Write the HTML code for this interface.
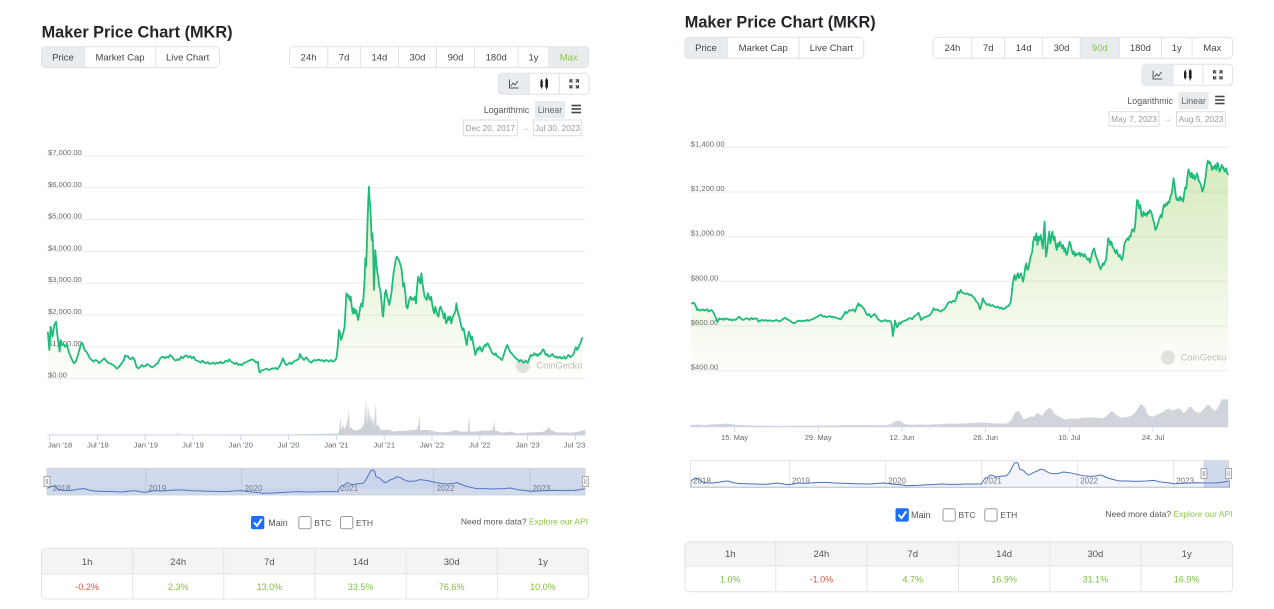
<!DOCTYPE html>
<html><head><meta charset="utf-8"><style>
html,body{margin:0;padding:0;background:#fff;}
svg{display:block;}
</style></head><body>
<svg width="1274" height="609" viewBox="0 0 1274 609" xmlns="http://www.w3.org/2000/svg" font-family="'Liberation Sans', sans-serif">
<defs>
<linearGradient id="gL" gradientUnits="userSpaceOnUse" x1="0" y1="48" x2="0" y2="716"><stop offset="0" stop-color="#8dc647" stop-opacity="0.38"/><stop offset="1" stop-color="#8dc647" stop-opacity="0.02"/></linearGradient>
<linearGradient id="gR" gradientUnits="userSpaceOnUse" x1="0" y1="52" x2="0" y2="722"><stop offset="0" stop-color="#8dc647" stop-opacity="0.38"/><stop offset="1" stop-color="#8dc647" stop-opacity="0.02"/></linearGradient>
</defs>

<!-- ================= LEFT PANEL ================= -->
<text x="41.6" y="37.7" font-size="16.3" font-weight="bold" fill="#212529">Maker Price Chart (MKR)</text>
<!-- tabs -->
<rect x="41.5" y="46.7" width="178" height="20.8" rx="4" fill="#fff"/>
<rect x="42" y="47.2" width="42.3" height="19.8" fill="#e9ecef"/>
<rect x="41.5" y="46.7" width="178" height="20.8" rx="4" fill="none" stroke="#dee2e6"/>
<line x1="84.3" y1="46.7" x2="84.3" y2="67.5" stroke="#dee2e6"/>
<line x1="155.7" y1="46.7" x2="155.7" y2="67.5" stroke="#dee2e6"/>
<g font-size="9.5" fill="#444" text-anchor="middle">
<text x="63" y="60.4">Price</text><text x="120" y="60.4">Market Cap</text><text x="187.6" y="60.4">Live Chart</text>
</g>
<!-- ranges -->
<rect x="549" y="47.2" width="39" height="19.8" fill="#e9ecef"/>
<rect x="289.5" y="46.7" width="299" height="20.8" rx="4" fill="none" stroke="#dee2e6"/>
<g stroke="#dee2e6"><line x1="327.8" y1="46.7" x2="327.8" y2="67.5"/><line x1="360.4" y1="46.7" x2="360.4" y2="67.5"/><line x1="398.5" y1="46.7" x2="398.5" y2="67.5"/><line x1="436.5" y1="46.7" x2="436.5" y2="67.5"/><line x1="474.5" y1="46.7" x2="474.5" y2="67.5"/><line x1="518" y1="46.7" x2="518" y2="67.5"/><line x1="549" y1="46.7" x2="549" y2="67.5"/></g>
<g font-size="9.5" fill="#444" text-anchor="middle">
<text x="308.6" y="60.4">24h</text><text x="344.1" y="60.4">7d</text><text x="379.4" y="60.4">14d</text><text x="417.5" y="60.4">30d</text><text x="455.5" y="60.4">90d</text><text x="496.2" y="60.4">180d</text><text x="533.5" y="60.4">1y</text><text x="568.7" y="60.4" fill="#8dc647">Max</text>
</g>
<!-- icons -->
<g id="icons">
<rect x="498.8" y="73.8" width="30.5" height="20" fill="#e9ecef"/>
<rect x="498.3" y="73.3" width="90.7" height="21" rx="4" fill="none" stroke="#dee2e6"/>
<line x1="529.3" y1="73.3" x2="529.3" y2="94.3" stroke="#dee2e6"/><line x1="559.3" y1="73.3" x2="559.3" y2="94.3" stroke="#dee2e6"/>
<path d="M509.5,79.5 V88 H518.5" stroke="#555" fill="none"/><path d="M511,86 L513,83 L515,85 L518,81" stroke="#555" fill="none"/>
<line x1="541.6" y1="79" x2="541.6" y2="88.5" stroke="#222"/><rect x="540.4" y="80.5" width="2.4" height="6.5" fill="#222"/>
<line x1="546.6" y1="78" x2="546.6" y2="89.5" stroke="#222"/><rect x="545.3" y="79.5" width="2.7" height="8" fill="#222"/>
<g stroke="#444" stroke-width="1.2" fill="none"><path d="M570,82.6 V79.8 H572.8 M570,79.8 L572.6,82.4 M578.4,82.6 V79.8 H575.6 M578.4,79.8 L575.8,82.4 M570,85 V87.8 H572.8 M570,87.8 L572.6,85.2 M578.4,85 V87.8 H575.6 M578.4,87.8 L575.8,85.2"/></g>
</g>
<!-- log/linear -->
<text x="529.3" y="113.2" font-size="8.8" fill="#555" text-anchor="end">Logarithmic</text>
<rect x="535" y="101" width="30" height="17.3" fill="#e9ecef"/>
<text x="550" y="113.2" font-size="8.8" fill="#666" text-anchor="middle">Linear</text>
<g stroke="#444" stroke-width="1.6"><line x1="571.5" y1="105.5" x2="581" y2="105.5"/><line x1="571.5" y1="109" x2="581" y2="109"/><line x1="571.5" y1="112.5" x2="581" y2="112.5"/></g>
<!-- dates -->
<rect x="463.3" y="120" width="54" height="15.7" fill="#fff" stroke="#dcdcdc"/>
<text x="490.3" y="130.8" font-size="8.3" fill="#999" text-anchor="middle">Dec 20, 2017</text>
<text x="525" y="130.5" font-size="7" fill="#999" text-anchor="middle">→</text>
<rect x="533.3" y="120" width="48.4" height="15.7" fill="#fff" stroke="#dcdcdc"/>
<text x="557.5" y="130.8" font-size="8.3" fill="#999" text-anchor="middle">Jul 30, 2023</text>

<!-- left chart grid -->
<g stroke="#ebebeb"><line x1="47" y1="156" x2="585" y2="156"/><line x1="47" y1="187.8" x2="585" y2="187.8"/><line x1="47" y1="219.6" x2="585" y2="219.6"/><line x1="47" y1="251.4" x2="585" y2="251.4"/><line x1="47" y1="283.2" x2="585" y2="283.2"/><line x1="47" y1="315" x2="585" y2="315"/><line x1="47" y1="346.8" x2="585" y2="346.8"/><line x1="47" y1="378.6" x2="585" y2="378.6"/></g>
<g font-size="7.6" fill="#666">
<text x="48" y="155">$7,000.00</text><text x="48" y="186.8">$6,000.00</text><text x="48" y="218.6">$5,000.00</text><text x="48" y="250.4">$4,000.00</text><text x="48" y="282.2">$3,000.00</text><text x="48" y="314">$2,000.00</text><text x="48" y="345.8">$1,000.00</text><text x="48" y="377.6">$0.00</text>
</g>
<circle cx="522.8" cy="366" r="7" fill="#e3e3e3"/>
<text x="536.4" y="368.6" font-size="9.3" fill="#bdbdbd">CoinGecko</text>
<g transform="translate(40,140) scale(0.3571,0.3333)">
<path fill="url(#gL)" d="M22,575 L26,630 30,560 35,590 40,555 45,545 48,580 52,610 55,635 58,600 62,615 66,612 70,620 74,615 78,625 82,640 86,650 90,660 95,670 100,665 105,650 110,630 115,612 118,608 122,620 126,632 130,635 135,645 140,655 145,660 150,665 155,660 160,662 165,670 170,665 175,660 180,655 185,662 190,668 195,670 200,672 205,675 210,680 215,686 220,682 225,675 230,668 235,660 238,647 242,650 246,648 250,655 255,658 260,652 265,660 270,680 275,685 280,682 285,675 290,680 295,678 300,672 305,676 310,680 315,682 320,678 325,673 330,670 335,658 340,652 345,650 350,655 355,650 360,652 365,645 370,650 375,658 380,662 385,658 390,660 395,650 400,655 405,648 410,646 415,652 420,648 425,655 430,650 435,660 440,662 445,665 450,668 455,662 460,668 465,670 470,666 475,672 480,670 485,668 490,672 495,668 500,670 505,665 510,670 515,668 520,662 525,665 530,658 535,665 540,668 545,672 550,668 555,675 560,672 565,676 570,670 575,668 580,665 585,662 590,660 595,658 600,662 605,668 610,665 613,690 616,698 620,692 625,690 630,688 635,686 640,690 645,688 650,685 655,686 660,684 665,688 670,680 675,670 680,655 683,662 686,670 690,675 695,672 700,668 705,672 710,665 715,662 720,660 725,655 728,642 731,650 735,655 740,660 745,652 750,658 755,665 760,668 765,662 770,660 775,662 780,658 785,662 790,660 795,665 800,660 805,662 810,665 815,660 820,665 825,662 830,655 834,620 837,570 840,580 843,600 846,590 850,575 853,560 856,500 858,460 861,470 864,465 867,480 870,470 873,500 876,520 879,505 882,520 885,510 888,525 891,540 894,520 897,500 900,490 903,500 906,470 909,420 911,355 913,380 915,330 917,250 919,190 921,140 923,180 925,200 927,250 929,300 931,280 933,330 935,450 937,400 939,330 941,360 943,380 945,400 947,410 950,440 953,450 956,480 959,520 961,530 963,500 966,460 969,450 972,470 975,480 978,495 981,480 984,460 987,430 990,400 993,380 996,360 999,350 1002,355 1005,360 1008,370 1011,380 1014,400 1017,440 1020,430 1023,460 1026,500 1029,505 1032,490 1035,475 1038,470 1041,480 1044,475 1047,480 1050,470 1053,490 1056,440 1059,410 1062,420 1065,430 1068,400 1071,430 1074,450 1077,470 1080,475 1083,480 1086,460 1089,470 1092,480 1095,470 1098,490 1101,510 1104,520 1107,500 1110,515 1113,525 1116,530 1119,505 1122,500 1125,510 1128,520 1131,535 1134,520 1137,550 1140,545 1143,530 1146,540 1149,530 1152,550 1155,535 1158,525 1161,520 1164,510 1166,490 1168,505 1171,520 1174,530 1177,545 1180,560 1183,570 1186,565 1189,580 1192,600 1195,615 1198,590 1201,575 1204,585 1207,600 1210,590 1213,610 1216,625 1219,645 1222,635 1225,625 1228,630 1231,620 1234,625 1237,635 1240,628 1243,620 1246,615 1249,618 1252,610 1255,612 1258,620 1261,625 1264,635 1267,640 1270,642 1273,645 1276,640 1279,648 1282,650 1285,652 1288,655 1291,658 1294,660 1297,650 1300,640 1303,630 1306,620 1309,615 1312,625 1315,632 1318,638 1321,640 1324,645 1327,648 1330,652 1333,655 1336,658 1339,660 1342,665 1345,660 1348,662 1351,665 1354,668 1357,666 1360,662 1363,665 1366,668 1369,660 1372,650 1375,645 1378,648 1381,645 1384,640 1387,645 1390,642 1393,648 1396,645 1399,640 1402,642 1405,635 1408,628 1411,630 1414,640 1417,645 1420,642 1423,648 1426,650 1429,648 1432,645 1435,642 1438,648 1441,650 1444,652 1447,650 1450,654 1453,652 1456,650 1459,655 1462,656 1465,652 1468,650 1471,656 1474,655 1477,648 1480,645 1483,648 1486,652 1489,648 1492,645 1495,640 1498,628 1501,622 1504,630 1507,625 1510,615 1513,612 1516,600 1519,592 L1519,716 L22,716 Z"/>
<path fill="none" stroke="#1fbb7a" stroke-width="1.8" stroke-linejoin="round" vector-effect="non-scaling-stroke" d="M22,575 L26,630 30,560 35,590 40,555 45,545 48,580 52,610 55,635 58,600 62,615 66,612 70,620 74,615 78,625 82,640 86,650 90,660 95,670 100,665 105,650 110,630 115,612 118,608 122,620 126,632 130,635 135,645 140,655 145,660 150,665 155,660 160,662 165,670 170,665 175,660 180,655 185,662 190,668 195,670 200,672 205,675 210,680 215,686 220,682 225,675 230,668 235,660 238,647 242,650 246,648 250,655 255,658 260,652 265,660 270,680 275,685 280,682 285,675 290,680 295,678 300,672 305,676 310,680 315,682 320,678 325,673 330,670 335,658 340,652 345,650 350,655 355,650 360,652 365,645 370,650 375,658 380,662 385,658 390,660 395,650 400,655 405,648 410,646 415,652 420,648 425,655 430,650 435,660 440,662 445,665 450,668 455,662 460,668 465,670 470,666 475,672 480,670 485,668 490,672 495,668 500,670 505,665 510,670 515,668 520,662 525,665 530,658 535,665 540,668 545,672 550,668 555,675 560,672 565,676 570,670 575,668 580,665 585,662 590,660 595,658 600,662 605,668 610,665 613,690 616,698 620,692 625,690 630,688 635,686 640,690 645,688 650,685 655,686 660,684 665,688 670,680 675,670 680,655 683,662 686,670 690,675 695,672 700,668 705,672 710,665 715,662 720,660 725,655 728,642 731,650 735,655 740,660 745,652 750,658 755,665 760,668 765,662 770,660 775,662 780,658 785,662 790,660 795,665 800,660 805,662 810,665 815,660 820,665 825,662 830,655 834,620 837,570 840,580 843,600 846,590 850,575 853,560 856,500 858,460 861,470 864,465 867,480 870,470 873,500 876,520 879,505 882,520 885,510 888,525 891,540 894,520 897,500 900,490 903,500 906,470 909,420 911,355 913,380 915,330 917,250 919,190 921,140 923,180 925,200 927,250 929,300 931,280 933,330 935,450 937,400 939,330 941,360 943,380 945,400 947,410 950,440 953,450 956,480 959,520 961,530 963,500 966,460 969,450 972,470 975,480 978,495 981,480 984,460 987,430 990,400 993,380 996,360 999,350 1002,355 1005,360 1008,370 1011,380 1014,400 1017,440 1020,430 1023,460 1026,500 1029,505 1032,490 1035,475 1038,470 1041,480 1044,475 1047,480 1050,470 1053,490 1056,440 1059,410 1062,420 1065,430 1068,400 1071,430 1074,450 1077,470 1080,475 1083,480 1086,460 1089,470 1092,480 1095,470 1098,490 1101,510 1104,520 1107,500 1110,515 1113,525 1116,530 1119,505 1122,500 1125,510 1128,520 1131,535 1134,520 1137,550 1140,545 1143,530 1146,540 1149,530 1152,550 1155,535 1158,525 1161,520 1164,510 1166,490 1168,505 1171,520 1174,530 1177,545 1180,560 1183,570 1186,565 1189,580 1192,600 1195,615 1198,590 1201,575 1204,585 1207,600 1210,590 1213,610 1216,625 1219,645 1222,635 1225,625 1228,630 1231,620 1234,625 1237,635 1240,628 1243,620 1246,615 1249,618 1252,610 1255,612 1258,620 1261,625 1264,635 1267,640 1270,642 1273,645 1276,640 1279,648 1282,650 1285,652 1288,655 1291,658 1294,660 1297,650 1300,640 1303,630 1306,620 1309,615 1312,625 1315,632 1318,638 1321,640 1324,645 1327,648 1330,652 1333,655 1336,658 1339,660 1342,665 1345,660 1348,662 1351,665 1354,668 1357,666 1360,662 1363,665 1366,668 1369,660 1372,650 1375,645 1378,648 1381,645 1384,640 1387,645 1390,642 1393,648 1396,645 1399,640 1402,642 1405,635 1408,628 1411,630 1414,640 1417,645 1420,642 1423,648 1426,650 1429,648 1432,645 1435,642 1438,648 1441,650 1444,652 1447,650 1450,654 1453,652 1456,650 1459,655 1462,656 1465,652 1468,650 1471,656 1474,655 1477,648 1480,645 1483,648 1486,652 1489,648 1492,645 1495,640 1498,628 1501,622 1504,630 1507,625 1510,615 1513,612 1516,600 1519,592"/>
</g>
<!-- left volume -->
<g transform="translate(40,380) scale(0.3589,0.3333)">
<path fill="#cdd0d6" d="M20,164 L380,164 384,158 388,164 700,163 760,162 830,161 834,150 837,110 840,150 844,132 848,148 853,138 857,120 860,90 863,148 867,140 872,150 880,152 890,148 898,142 904,125 907,60 909,140 911,55 913,130 916,75 919,128 922,100 925,132 928,112 931,138 934,96 936,66 938,140 942,132 946,146 952,150 962,150 972,148 985,155 1000,153 1020,152 1040,150 1050,148 1055,130 1057,100 1059,150 1070,150 1085,150 1100,155 1120,157 1140,155 1160,150 1170,155 1192,155 1194,130 1196,105 1198,155 1215,155 1230,152 1250,152 1262,150 1264,135 1266,120 1268,152 1290,158 1310,155 1330,160 1360,158 1400,156 1412,150 1418,140 1423,150 1440,157 1480,158 1500,155 1512,152 1520,150 L1520,165 L20,165 Z"/>
</g>
<line x1="47" y1="435" x2="585" y2="435" stroke="#ccd6eb"/>
<g stroke="#ccd6eb"><line x1="49.6" y1="435" x2="49.6" y2="440"/><line x1="97.4" y1="435" x2="97.4" y2="440"/><line x1="145.2" y1="435" x2="145.2" y2="440"/><line x1="193" y1="435" x2="193" y2="440"/><line x1="240.8" y1="435" x2="240.8" y2="440"/><line x1="288.6" y1="435" x2="288.6" y2="440"/><line x1="336.4" y1="435" x2="336.4" y2="440"/><line x1="384.2" y1="435" x2="384.2" y2="440"/><line x1="432" y1="435" x2="432" y2="440"/><line x1="479.8" y1="435" x2="479.8" y2="440"/><line x1="527.6" y1="435" x2="527.6" y2="440"/><line x1="575.4" y1="435" x2="575.4" y2="440"/></g>
<g font-size="7.6" fill="#666" text-anchor="middle">
<text x="48" y="447.7" text-anchor="start">Jan '18</text><text x="97.9" y="447.7">Jul '18</text><text x="145.8" y="447.7">Jan '19</text><text x="193" y="447.7">Jul '19</text><text x="240.8" y="447.7">Jan '20</text><text x="288.6" y="447.7">Jul '20</text><text x="336.4" y="447.7">Jan '21</text><text x="384.2" y="447.7">Jul '21</text><text x="432" y="447.7">Jan '22</text><text x="479.8" y="447.7">Jul '22</text><text x="527.6" y="447.7">Jan '23</text><text x="574.5" y="447.7">Jul '23</text>
</g>
<!-- left navigator -->
<rect x="47" y="468.3" width="538" height="26.7" fill="#fff"/>
<g stroke="#e6e6e6"><line x1="146" y1="468.3" x2="146" y2="495"/><line x1="241.7" y1="468.3" x2="241.7" y2="495"/><line x1="338" y1="468.3" x2="338" y2="495"/><line x1="433.7" y1="468.3" x2="433.7" y2="495"/><line x1="530" y1="468.3" x2="530" y2="495"/></g>
<g font-size="8" fill="#777"><text x="52.6" y="491">2018</text><text x="148.4" y="491">2019</text><text x="244.6" y="491">2020</text><text x="340.4" y="491">2021</text><text x="436.6" y="491">2022</text><text x="532.5" y="491">2023</text></g>
<g transform="translate(40,380) scale(0.3589,0.3333)">
<path fill="rgba(51,92,173,0.05)" stroke="#4a6fbd" stroke-width="1" vector-effect="non-scaling-stroke" d="M20,325 L30,320 40,318 50,328 60,330 70,332 80,332 95,330 110,327 125,326 135,330 150,333 170,334 200,335 230,336 260,332 275,334 290,337 305,335 320,332 340,333 360,331 380,330 400,330 420,332 450,333 480,334 520,335 540,333 560,332 575,334 590,336 610,338 620,340 650,339 680,337 700,336 720,335 740,336 760,336 790,335 830,335 835,325 840,318 848,315 855,308 862,310 870,314 880,312 890,311 900,310 908,300 915,285 922,272 928,270 933,275 936,290 940,292 945,293 952,300 960,308 968,305 975,300 985,296 995,290 1005,293 1012,298 1020,302 1030,304 1045,303 1058,299 1068,300 1080,302 1092,305 1105,308 1120,311 1135,312 1150,310 1162,308 1172,312 1185,318 1200,322 1215,326 1240,326 1260,327 1290,326 1310,324 1330,329 1350,331 1365,334 1385,333 1410,332 1430,331 1460,332 1490,331 1510,328 1520,325"/>
</g>
<rect x="47" y="468.3" width="538" height="26.7" fill="rgba(102,133,194,0.3)" stroke="#c9cfdc" stroke-width="0.8"/>
<rect x="44" y="476.5" width="6" height="10" fill="#f2f2f2" stroke="#999" stroke-width="0.8"/><line x1="46.3" y1="479" x2="46.3" y2="484" stroke="#999" stroke-width="0.6"/><line x1="47.7" y1="479" x2="47.7" y2="484" stroke="#999" stroke-width="0.6"/>
<rect x="582.3" y="476.5" width="6" height="10" fill="#f2f2f2" stroke="#999" stroke-width="0.8"/><line x1="584.6" y1="479" x2="584.6" y2="484" stroke="#999" stroke-width="0.6"/><line x1="586" y1="479" x2="586" y2="484" stroke="#999" stroke-width="0.6"/>
<!-- checkboxes -->
<rect x="251" y="516" width="13.3" height="13.3" rx="2" fill="#1b6ff5"/>
<polyline points="254,522.5 257,525.8 261.8,519" fill="none" stroke="#fff" stroke-width="2"/>
<text x="268.3" y="525.8" font-size="9" fill="#555">Main</text>
<rect x="298.8" y="516.5" width="12.3" height="12.3" rx="2" fill="#fff" stroke="#9a9a9a"/>
<text x="314.3" y="525.8" font-size="8.5" fill="#555">BTC</text>
<rect x="340.5" y="516.5" width="12.3" height="12.3" rx="2" fill="#fff" stroke="#9a9a9a"/>
<text x="356" y="525.8" font-size="8.5" fill="#555">ETH</text>
<text x="588" y="524.6" font-size="8.5" fill="#555" text-anchor="end">Need more data? <tspan fill="#8dc647">Explore our API</tspan></text>
<!-- table -->
<rect x="41.5" y="548.3" width="547" height="50.7" rx="4" fill="#fff"/>
<path d="M45.5,548.3 H584.5 Q588.5,548.3 588.5,552.3 V574 H41.5 V552.3 Q41.5,548.3 45.5,548.3 Z" fill="#f3f4f6"/>
<rect x="41.5" y="548.3" width="547" height="50.7" rx="4" fill="none" stroke="#e1e4e8"/>
<line x1="41.5" y1="574" x2="588.5" y2="574" stroke="#e1e4e8"/>
<g stroke="#e1e4e8"><line x1="132.7" y1="548.3" x2="132.7" y2="599"/><line x1="223.8" y1="548.3" x2="223.8" y2="599"/><line x1="315" y1="548.3" x2="315" y2="599"/><line x1="406.2" y1="548.3" x2="406.2" y2="599"/><line x1="497.3" y1="548.3" x2="497.3" y2="599"/></g>
<g font-size="9.5" fill="#555" text-anchor="middle"><text x="87.1" y="564.8">1h</text><text x="178.2" y="564.8">24h</text><text x="269.4" y="564.8">7d</text><text x="360.6" y="564.8">14d</text><text x="451.7" y="564.8">30d</text><text x="542.9" y="564.8">1y</text></g>
<g font-size="9" text-anchor="middle" fill="#7cbf3e"><text x="87.1" y="590" fill="#e5533d">-0.2%</text><text x="178.2" y="590">2.3%</text><text x="269.4" y="590">13.0%</text><text x="360.6" y="590">33.5%</text><text x="451.7" y="590">76.6%</text><text x="542.9" y="590">10.0%</text></g>

<!-- ================= RIGHT PANEL ================= -->
<text x="684.8" y="27.7" font-size="16.3" font-weight="bold" fill="#212529">Maker Price Chart (MKR)</text>
<rect x="684.8" y="37.3" width="178.9" height="21" rx="4" fill="#fff"/>
<rect x="685.3" y="37.8" width="41.9" height="20" fill="#e9ecef"/>
<rect x="684.8" y="37.3" width="178.9" height="21" rx="4" fill="none" stroke="#dee2e6"/>
<line x1="727.2" y1="37.3" x2="727.2" y2="58.3" stroke="#dee2e6"/><line x1="799.2" y1="37.3" x2="799.2" y2="58.3" stroke="#dee2e6"/>
<g font-size="9.5" fill="#444" text-anchor="middle"><text x="706" y="51.1">Price</text><text x="763.2" y="51.1">Market Cap</text><text x="831.4" y="51.1">Live Chart</text></g>
<rect x="1080.3" y="37.8" width="39.1" height="20" fill="#e9ecef"/>
<rect x="933.1" y="37.3" width="299.6" height="21" rx="4" fill="none" stroke="#dee2e6"/>
<g stroke="#dee2e6"><line x1="971.8" y1="37.3" x2="971.8" y2="58.3"/><line x1="1004.7" y1="37.3" x2="1004.7" y2="58.3"/><line x1="1042.7" y1="37.3" x2="1042.7" y2="58.3"/><line x1="1080.3" y1="37.3" x2="1080.3" y2="58.3"/><line x1="1119.4" y1="37.3" x2="1119.4" y2="58.3"/><line x1="1161.5" y1="37.3" x2="1161.5" y2="58.3"/><line x1="1192.1" y1="37.3" x2="1192.1" y2="58.3"/></g>
<g font-size="9.5" fill="#444" text-anchor="middle"><text x="952.4" y="51.1">24h</text><text x="988.2" y="51.1">7d</text><text x="1023.7" y="51.1">14d</text><text x="1061.5" y="51.1">30d</text><text x="1099.8" y="51.1" fill="#8dc647">90d</text><text x="1140.4" y="51.1">180d</text><text x="1176.8" y="51.1">1y</text><text x="1212.4" y="51.1">Max</text></g>
<g transform="translate(643.6,-9)">
<rect x="498.8" y="73.8" width="30.5" height="20" fill="#e9ecef"/>
<rect x="498.3" y="73.3" width="90.7" height="21" rx="4" fill="none" stroke="#dee2e6"/>
<line x1="529.3" y1="73.3" x2="529.3" y2="94.3" stroke="#dee2e6"/><line x1="559.3" y1="73.3" x2="559.3" y2="94.3" stroke="#dee2e6"/>
<path d="M509.5,79.5 V88 H518.5" stroke="#555" fill="none"/><path d="M511,86 L513,83 L515,85 L518,81" stroke="#555" fill="none"/>
<line x1="541.6" y1="79" x2="541.6" y2="88.5" stroke="#222"/><rect x="540.4" y="80.5" width="2.4" height="6.5" fill="#222"/>
<line x1="546.6" y1="78" x2="546.6" y2="89.5" stroke="#222"/><rect x="545.3" y="79.5" width="2.7" height="8" fill="#222"/>
<g stroke="#444" stroke-width="1.2" fill="none"><path d="M570,82.6 V79.8 H572.8 M570,79.8 L572.6,82.4 M578.4,82.6 V79.8 H575.6 M578.4,79.8 L575.8,82.4 M570,85 V87.8 H572.8 M570,87.8 L572.6,85.2 M578.4,85 V87.8 H575.6 M578.4,87.8 L575.8,85.2"/></g>
<text x="529.3" y="113.2" font-size="8.8" fill="#555" text-anchor="end">Logarithmic</text>
<rect x="535" y="101" width="30" height="17.3" fill="#e9ecef"/>
<text x="550" y="113.2" font-size="8.8" fill="#666" text-anchor="middle">Linear</text>
<g stroke="#444" stroke-width="1.6"><line x1="571.5" y1="105.5" x2="581" y2="105.5"/><line x1="571.5" y1="109" x2="581" y2="109"/><line x1="571.5" y1="112.5" x2="581" y2="112.5"/></g>
</g>
<rect x="1109" y="111.7" width="50" height="14.5" fill="#fff" stroke="#dcdcdc"/>
<text x="1134" y="121.9" font-size="8.3" fill="#999" text-anchor="middle">May 7, 2023</text>
<text x="1167.5" y="121.6" font-size="7" fill="#999" text-anchor="middle">→</text>
<rect x="1176.5" y="111.7" width="48.9" height="14.5" fill="#fff" stroke="#dcdcdc"/>
<text x="1201" y="121.9" font-size="8.3" fill="#999" text-anchor="middle">Aug 5, 2023</text>

<!-- right chart grid -->
<g stroke="#ebebeb"><line x1="690" y1="147.3" x2="1228" y2="147.3"/><line x1="690" y1="192" x2="1228" y2="192"/><line x1="690" y1="236.7" x2="1228" y2="236.7"/><line x1="690" y1="281.3" x2="1228" y2="281.3"/><line x1="690" y1="326" x2="1228" y2="326"/><line x1="690" y1="370.7" x2="1228" y2="370.7"/></g>
<g font-size="7.6" fill="#666"><text x="690.8" y="146.3">$1,400.00</text><text x="690.8" y="191">$1,200.00</text><text x="690.8" y="235.7">$1,000.00</text><text x="690.8" y="280.3">$800.00</text><text x="690.8" y="325">$600.00</text><text x="690.8" y="369.7">$400.00</text></g>
<circle cx="1168" cy="357.7" r="7" fill="#e3e3e3"/>
<text x="1180.7" y="360.3" font-size="9.3" fill="#bdbdbd">CoinGecko</text>
<g transform="translate(680,130) scale(0.3571,0.3333)">
<path fill="url(#gR)" d="M32,522 L36,518 40,520 44,528 48,540 52,538 56,542 60,540 64,538 68,542 72,540 76,538 80,545 84,542 88,540 92,545 95,550 98,558 101,565 104,575 107,572 110,565 114,568 118,566 122,570 126,565 130,568 134,566 138,570 142,568 146,572 150,568 155,570 160,566 165,560 170,565 175,570 180,568 185,565 190,566 195,570 200,564 205,568 210,565 215,566 220,575 225,572 230,570 235,572 240,570 245,573 250,571 255,572 260,574 265,572 270,570 275,573 280,574 285,570 290,566 295,563 300,568 305,570 310,574 315,578 320,580 325,576 330,573 335,572 340,574 345,572 350,573 355,570 360,572 365,570 370,568 375,566 380,562 385,560 390,556 395,554 400,560 405,558 410,562 415,560 420,558 425,562 430,560 435,563 440,565 445,566 450,568 455,560 460,552 463,545 466,550 470,546 475,540 480,542 485,538 490,545 495,530 500,520 503,528 506,525 510,530 514,535 518,542 522,552 526,556 530,552 535,562 540,556 545,552 550,560 555,568 560,572 565,575 570,572 575,570 580,574 585,572 590,575 593,585 596,618 599,600 602,572 605,582 608,592 611,586 614,578 617,582 620,576 625,574 630,572 635,570 640,566 645,564 650,568 655,560 660,556 665,552 668,548 672,560 675,570 680,565 685,562 690,560 695,558 700,555 705,548 710,535 715,540 720,538 725,542 730,545 735,540 740,538 745,530 750,520 755,515 760,518 765,512 770,515 775,500 778,485 782,490 786,480 790,488 795,490 800,492 805,490 810,495 815,494 820,500 825,505 830,515 835,520 840,538 844,525 848,505 852,515 856,520 860,525 865,522 870,528 875,525 880,530 885,532 890,530 895,535 900,533 905,538 910,535 915,530 920,528 925,520 928,500 931,470 934,445 937,435 940,450 943,440 946,430 949,445 952,435 955,430 958,445 961,455 964,435 967,410 970,400 973,420 976,415 980,390 983,375 986,368 989,335 992,320 995,330 998,310 1001,345 1004,320 1007,330 1010,315 1013,335 1016,355 1019,300 1021,275 1023,340 1025,380 1028,360 1031,330 1034,305 1037,340 1040,320 1043,305 1046,330 1049,320 1052,345 1055,360 1058,340 1061,350 1064,335 1067,345 1070,355 1073,345 1076,365 1079,355 1082,375 1085,370 1088,350 1091,335 1094,345 1097,360 1100,372 1103,365 1106,378 1109,370 1112,375 1115,372 1118,368 1121,378 1124,370 1127,375 1130,380 1133,372 1136,380 1139,385 1142,390 1145,385 1148,398 1151,385 1154,370 1157,360 1160,355 1163,372 1166,382 1169,390 1172,400 1175,410 1178,418 1181,410 1184,400 1187,405 1190,395 1193,390 1196,360 1199,325 1202,330 1205,345 1208,335 1211,350 1214,355 1217,362 1220,370 1223,360 1226,372 1229,380 1232,375 1235,385 1238,390 1241,375 1244,345 1247,335 1250,330 1253,325 1256,330 1259,318 1262,320 1265,300 1268,298 1271,305 1274,292 1277,250 1280,210 1283,215 1286,235 1289,225 1292,255 1295,260 1298,245 1301,255 1304,250 1307,258 1310,245 1313,250 1316,240 1319,245 1322,255 1325,270 1328,280 1331,300 1334,295 1337,285 1340,275 1343,265 1346,255 1349,262 1352,240 1355,225 1358,230 1361,220 1364,225 1367,215 1370,218 1373,200 1376,195 1379,175 1382,145 1385,165 1388,195 1391,210 1394,205 1397,212 1400,200 1403,210 1406,205 1409,215 1412,190 1415,172 1418,175 1421,140 1424,118 1427,130 1430,142 1433,128 1436,145 1439,135 1442,148 1445,140 1448,130 1451,145 1454,155 1457,160 1460,170 1463,185 1466,175 1469,160 1472,140 1475,110 1478,92 1481,100 1484,96 1487,105 1490,120 1493,110 1496,115 1499,105 1502,120 1505,98 1508,110 1511,125 1514,118 1517,105 1520,110 1523,118 1526,125 1529,115 1532,128 1535,135 L1535,722 L32,722 Z"/>
<path fill="none" stroke="#1fbb7a" stroke-width="1.8" stroke-linejoin="round" vector-effect="non-scaling-stroke" d="M32,522 L36,518 40,520 44,528 48,540 52,538 56,542 60,540 64,538 68,542 72,540 76,538 80,545 84,542 88,540 92,545 95,550 98,558 101,565 104,575 107,572 110,565 114,568 118,566 122,570 126,565 130,568 134,566 138,570 142,568 146,572 150,568 155,570 160,566 165,560 170,565 175,570 180,568 185,565 190,566 195,570 200,564 205,568 210,565 215,566 220,575 225,572 230,570 235,572 240,570 245,573 250,571 255,572 260,574 265,572 270,570 275,573 280,574 285,570 290,566 295,563 300,568 305,570 310,574 315,578 320,580 325,576 330,573 335,572 340,574 345,572 350,573 355,570 360,572 365,570 370,568 375,566 380,562 385,560 390,556 395,554 400,560 405,558 410,562 415,560 420,558 425,562 430,560 435,563 440,565 445,566 450,568 455,560 460,552 463,545 466,550 470,546 475,540 480,542 485,538 490,545 495,530 500,520 503,528 506,525 510,530 514,535 518,542 522,552 526,556 530,552 535,562 540,556 545,552 550,560 555,568 560,572 565,575 570,572 575,570 580,574 585,572 590,575 593,585 596,618 599,600 602,572 605,582 608,592 611,586 614,578 617,582 620,576 625,574 630,572 635,570 640,566 645,564 650,568 655,560 660,556 665,552 668,548 672,560 675,570 680,565 685,562 690,560 695,558 700,555 705,548 710,535 715,540 720,538 725,542 730,545 735,540 740,538 745,530 750,520 755,515 760,518 765,512 770,515 775,500 778,485 782,490 786,480 790,488 795,490 800,492 805,490 810,495 815,494 820,500 825,505 830,515 835,520 840,538 844,525 848,505 852,515 856,520 860,525 865,522 870,528 875,525 880,530 885,532 890,530 895,535 900,533 905,538 910,535 915,530 920,528 925,520 928,500 931,470 934,445 937,435 940,450 943,440 946,430 949,445 952,435 955,430 958,445 961,455 964,435 967,410 970,400 973,420 976,415 980,390 983,375 986,368 989,335 992,320 995,330 998,310 1001,345 1004,320 1007,330 1010,315 1013,335 1016,355 1019,300 1021,275 1023,340 1025,380 1028,360 1031,330 1034,305 1037,340 1040,320 1043,305 1046,330 1049,320 1052,345 1055,360 1058,340 1061,350 1064,335 1067,345 1070,355 1073,345 1076,365 1079,355 1082,375 1085,370 1088,350 1091,335 1094,345 1097,360 1100,372 1103,365 1106,378 1109,370 1112,375 1115,372 1118,368 1121,378 1124,370 1127,375 1130,380 1133,372 1136,380 1139,385 1142,390 1145,385 1148,398 1151,385 1154,370 1157,360 1160,355 1163,372 1166,382 1169,390 1172,400 1175,410 1178,418 1181,410 1184,400 1187,405 1190,395 1193,390 1196,360 1199,325 1202,330 1205,345 1208,335 1211,350 1214,355 1217,362 1220,370 1223,360 1226,372 1229,380 1232,375 1235,385 1238,390 1241,375 1244,345 1247,335 1250,330 1253,325 1256,330 1259,318 1262,320 1265,300 1268,298 1271,305 1274,292 1277,250 1280,210 1283,215 1286,235 1289,225 1292,255 1295,260 1298,245 1301,255 1304,250 1307,258 1310,245 1313,250 1316,240 1319,245 1322,255 1325,270 1328,280 1331,300 1334,295 1337,285 1340,275 1343,265 1346,255 1349,262 1352,240 1355,225 1358,230 1361,220 1364,225 1367,215 1370,218 1373,200 1376,195 1379,175 1382,145 1385,165 1388,195 1391,210 1394,205 1397,212 1400,200 1403,210 1406,205 1409,215 1412,190 1415,172 1418,175 1421,140 1424,118 1427,130 1430,142 1433,128 1436,145 1439,135 1442,148 1445,140 1448,130 1451,145 1454,155 1457,160 1460,170 1463,185 1466,175 1469,160 1472,140 1475,110 1478,92 1481,100 1484,96 1487,105 1490,120 1493,110 1496,115 1499,105 1502,120 1505,98 1508,110 1511,125 1514,118 1517,105 1520,110 1523,118 1526,125 1529,115 1532,128 1535,135"/>
</g>
<!-- right volume -->
<g transform="translate(680,375) scale(0.3643,0.3333)">
<path fill="#d1d4da" d="M30,150 L50,149 70,150 90,148 110,147 130,146 150,149 170,150 190,151 210,152 230,152 250,152 280,153 300,152 330,152 360,152 400,151 430,151 460,150 490,150 520,150 550,151 570,150 580,146 590,140 600,137 608,140 615,147 625,149 640,149 660,148 680,149 700,148 720,147 740,146 760,146 780,145 800,144 820,142 840,143 860,145 880,146 895,146 905,141 912,130 918,115 925,108 932,110 938,122 943,133 950,130 958,127 965,124 970,126 975,120 982,114 988,118 995,122 1000,112 1008,103 1015,98 1020,103 1025,113 1030,118 1040,124 1050,130 1060,134 1070,131 1080,130 1090,132 1100,129 1115,128 1130,127 1145,128 1160,130 1170,124 1178,115 1185,108 1192,113 1200,122 1210,128 1220,127 1235,124 1245,118 1255,103 1262,90 1268,88 1275,95 1282,115 1290,124 1300,125 1310,118 1320,114 1330,108 1340,100 1350,106 1360,104 1368,100 1375,104 1382,114 1390,108 1398,95 1405,97 1412,108 1420,112 1428,113 1436,104 1443,95 1450,88 1457,96 1464,103 1470,108 1476,98 1482,85 1488,72 1494,74 1500,72 1505,75 L1505,155 L30,155 Z"/>
</g>
<line x1="690" y1="426.7" x2="1228" y2="426.7" stroke="#ccd6eb"/>
<g stroke="#ccd6eb"><line x1="734.5" y1="426.7" x2="734.5" y2="431.7"/><line x1="818.2" y1="426.7" x2="818.2" y2="431.7"/><line x1="901.9" y1="426.7" x2="901.9" y2="431.7"/><line x1="985.6" y1="426.7" x2="985.6" y2="431.7"/><line x1="1069.3" y1="426.7" x2="1069.3" y2="431.7"/><line x1="1153" y1="426.7" x2="1153" y2="431.7"/></g>
<g font-size="7.6" fill="#666" text-anchor="middle"><text x="734.5" y="439.8">15. May</text><text x="818.2" y="439.8">29. May</text><text x="901.9" y="439.8">12. Jun</text><text x="985.6" y="439.8">26. Jun</text><text x="1069.3" y="439.8">10. Jul</text><text x="1153" y="439.8">24. Jul</text></g>
<!-- right navigator -->
<rect x="690.6" y="460.7" width="538" height="26.7" fill="#fff"/>
<g stroke="#e6e6e6"><line x1="789.6" y1="460.7" x2="789.6" y2="487.4"/><line x1="885.3" y1="460.7" x2="885.3" y2="487.4"/><line x1="981.6" y1="460.7" x2="981.6" y2="487.4"/><line x1="1077.3" y1="460.7" x2="1077.3" y2="487.4"/><line x1="1173.6" y1="460.7" x2="1173.6" y2="487.4"/></g>
<g font-size="8" fill="#777"><text x="693" y="483.4">2018</text><text x="792" y="483.4">2019</text><text x="888.2" y="483.4">2020</text><text x="984" y="483.4">2021</text><text x="1080.2" y="483.4">2022</text><text x="1176.1" y="483.4">2023</text></g>
<g transform="translate(683.6,372.4) scale(0.3589,0.3333)">
<path fill="rgba(51,92,173,0.06)" stroke="#4a6fbd" stroke-width="1" vector-effect="non-scaling-stroke" d="M20,325 L30,320 40,318 50,328 60,330 70,332 80,332 95,330 110,327 125,326 135,330 150,333 170,334 200,335 230,336 260,332 275,334 290,337 305,335 320,332 340,333 360,331 380,330 400,330 420,332 450,333 480,334 520,335 540,333 560,332 575,334 590,336 610,338 620,340 650,339 680,337 700,336 720,335 740,336 760,336 790,335 830,335 835,325 840,318 848,315 855,308 862,310 870,314 880,312 890,311 900,310 908,300 915,285 922,272 928,270 933,275 936,290 940,292 945,293 952,300 960,308 968,305 975,300 985,296 995,290 1005,293 1012,298 1020,302 1030,304 1045,303 1058,299 1068,300 1080,302 1092,305 1105,308 1120,311 1135,312 1150,310 1162,308 1172,312 1185,318 1200,322 1215,326 1240,326 1260,327 1290,326 1310,324 1330,329 1350,331 1365,334 1385,333 1410,332 1430,331 1460,332 1490,331 1510,328 1520,325 L1520,345 L20,345 Z"/>
</g>
<rect x="690.6" y="460.7" width="538" height="26.7" fill="none" stroke="#dcdcdc" stroke-width="0.8"/>
<rect x="1203.5" y="460.7" width="25" height="26.7" fill="rgba(102,133,194,0.3)"/>
<rect x="1201" y="468.5" width="6" height="10" fill="#f2f2f2" stroke="#999" stroke-width="0.8"/><line x1="1203.3" y1="471" x2="1203.3" y2="476" stroke="#999" stroke-width="0.6"/><line x1="1204.7" y1="471" x2="1204.7" y2="476" stroke="#999" stroke-width="0.6"/>
<rect x="1225.5" y="468.5" width="6" height="10" fill="#f2f2f2" stroke="#999" stroke-width="0.8"/><line x1="1227.8" y1="471" x2="1227.8" y2="476" stroke="#999" stroke-width="0.6"/><line x1="1229.2" y1="471" x2="1229.2" y2="476" stroke="#999" stroke-width="0.6"/>
<!-- right checkboxes -->
<rect x="895.5" y="508.3" width="13.3" height="13.3" rx="2" fill="#1b6ff5"/>
<polyline points="898.5,514.8 901.5,518.1 906.3,511.3" fill="none" stroke="#fff" stroke-width="2"/>
<text x="911" y="518.1" font-size="9" fill="#555">Main</text>
<rect x="943" y="508.8" width="12.3" height="12.3" rx="2" fill="#fff" stroke="#9a9a9a"/>
<text x="958.5" y="518.1" font-size="8.5" fill="#555">BTC</text>
<rect x="984.8" y="508.8" width="12.3" height="12.3" rx="2" fill="#fff" stroke="#9a9a9a"/>
<text x="1000.3" y="518.1" font-size="8.5" fill="#555">ETH</text>
<text x="1232.5" y="517.2" font-size="8.5" fill="#555" text-anchor="end">Need more data? <tspan fill="#8dc647">Explore our API</tspan></text>
<!-- right table -->
<rect x="684.8" y="541.7" width="547.7" height="50" rx="4" fill="#fff"/>
<path d="M688.8,541.7 H1228.5 Q1232.5,541.7 1232.5,545.7 V566 H684.8 V545.7 Q684.8,541.7 688.8,541.7 Z" fill="#f3f4f6"/>
<rect x="684.8" y="541.7" width="547.7" height="50" rx="4" fill="none" stroke="#e1e4e8"/>
<line x1="684.8" y1="566" x2="1232.5" y2="566" stroke="#e1e4e8"/>
<g stroke="#e1e4e8"><line x1="775.8" y1="541.7" x2="775.8" y2="591.7"/><line x1="867" y1="541.7" x2="867" y2="591.7"/><line x1="958.5" y1="541.7" x2="958.5" y2="591.7"/><line x1="1049.8" y1="541.7" x2="1049.8" y2="591.7"/><line x1="1141" y1="541.7" x2="1141" y2="591.7"/></g>
<g font-size="9.5" fill="#555" text-anchor="middle"><text x="730.3" y="557.2">1h</text><text x="821.4" y="557.2">24h</text><text x="912.7" y="557.2">7d</text><text x="1004.1" y="557.2">14d</text><text x="1095.4" y="557.2">30d</text><text x="1186.7" y="557.2">1y</text></g>
<g font-size="9" text-anchor="middle" fill="#7cbf3e"><text x="730.3" y="582.5">1.0%</text><text x="821.4" y="582.5" fill="#e5533d">-1.0%</text><text x="912.7" y="582.5">4.7%</text><text x="1004.1" y="582.5">16.9%</text><text x="1095.4" y="582.5">31.1%</text><text x="1186.7" y="582.5">16.9%</text></g>
</svg>
</body></html>
